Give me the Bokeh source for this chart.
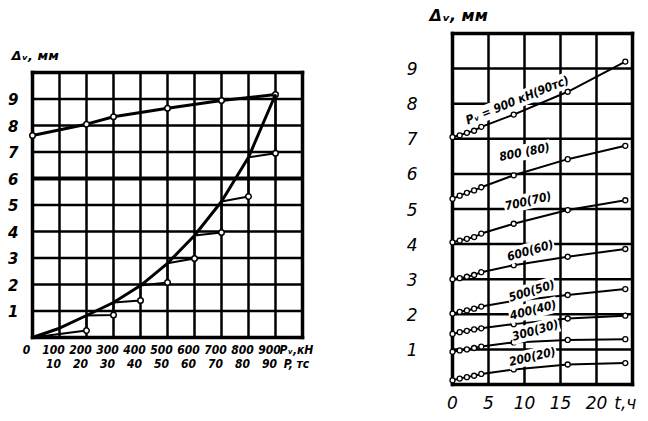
import numpy as np
from bokeh.plotting import figure
from bokeh.models import Label, Range1d
from bokeh.embed import file_html
from bokeh.resources import INLINE

# ---------------- data: left panel (settlement vs load) ----------------
load_kN = [0, 100, 200, 300, 400, 500, 600, 700, 800, 900]
settle_load = [0.0, 0.35, 0.83, 1.32, 1.96, 2.80, 3.85, 5.13, 6.80, 9.17]
step_kN = [0, 200, 200, 300, 300, 400, 400, 500, 500, 600, 600, 700, 700, 800, 800, 900, 900]
step_settle = [0.0, 0.26, 0.83, 0.85, 1.32, 1.40, 1.96, 2.08, 2.80, 2.98, 3.85, 3.96, 5.13, 5.32, 6.80, 6.95, 9.17]
rebound_kN = [0, 200, 300, 500, 700, 900]
rebound_settle = [7.62, 8.05, 8.33, 8.65, 8.94, 9.17]

x1_ticks = [0, 100, 200, 300, 400, 500, 600, 700, 800, 900, 1000]
x1_labels_kN = ["0", "100", "200", "300", "400", "500", "600", "700", "800", "900", "Pᵥ,кН"]
x1_labels_tc = ["", "10", "20", "30", "40", "50", "60", "70", "80", "90", "P, тс"]
y_ticks = [1, 2, 3, 4, 5, 6, 7, 8, 9]
y_grid = [0, 1, 2, 3, 4, 5, 6, 7, 8, 9, 10]

# ---------------- data: right panel (settlement vs time) ----------------
t_hours = [0, 1, 2, 3, 4, 8.5, 16, 24]
creep = {
    "200(20)": [0.12, 0.17, 0.21, 0.25, 0.30, 0.43, 0.57, 0.61],
    "300(30)": [0.93, 0.97, 1.00, 1.04, 1.08, 1.20, 1.27, 1.29],
    "400(40)": [1.44, 1.49, 1.53, 1.57, 1.60, 1.72, 1.88, 1.96],
    "500(50)": [2.02, 2.07, 2.11, 2.16, 2.22, 2.38, 2.55, 2.72],
    "600(60)": [3.00, 3.03, 3.07, 3.12, 3.20, 3.40, 3.64, 3.86],
    "700(70)": [4.05, 4.10, 4.15, 4.20, 4.30, 4.58, 4.97, 5.25],
    "800 (80)": [5.29, 5.38, 5.46, 5.53, 5.62, 5.96, 6.42, 6.80],
    "Pᵥ = 900 кН(90тс)": [7.05, 7.10, 7.17, 7.23, 7.34, 7.69, 8.34, 9.20],
}
x2_ticks = [0, 5, 10, 15, 20, 24]
x2_labels = ["0", "5", "10", "15", "20", "t,ч"]
x2_grid = [0, 5, 10, 15, 20, 25]

# ---------------- layout: one canvas, two panels placed through ranges ----------------
W, H = 644, 417
LEFT_BOX = (32, 302, 72, 337)      # canvas px: x of P=0, x of P=1000, y of 10 mm, y of 0 mm
RIGHT_BOX = (452, 632, 33, 384)    # canvas px: x of t=0, x of t=25, y of 10 mm, y of 0 mm

def xr(v0, v1, px0, px1):
    s = (px1 - px0) / (v1 - v0)
    return Range1d(v0 - px0 / s, v1 + (W - px1) / s)

def yr(v0, v1, py_top, py_bot):
    s = (py_bot - py_top) / (v1 - v0)
    return Range1d(v0 - (H - py_bot) / s, v1 + py_top / s)

p = figure(width=W, height=H, output_backend="svg", toolbar_location=None,
           x_axis_type=None, y_axis_type=None,
           x_range=xr(0, 1000, LEFT_BOX[0], LEFT_BOX[1]),
           y_range=yr(0, 10, LEFT_BOX[2], LEFT_BOX[3]),
           min_border=0, min_border_left=0, min_border_right=0,
           min_border_top=0, min_border_bottom=0)
p.extra_x_ranges = {"t": xr(0, 25, RIGHT_BOX[0], RIGHT_BOX[1])}
p.extra_y_ranges = {"v2": yr(0, 10, RIGHT_BOX[2], RIGHT_BOX[3])}
p.outline_line_color = None
p.background_fill_color = "white"
p.border_fill_color = "white"
p.xgrid.visible = False
p.ygrid.visible = False

FONT = "'DejaVu Sans', sans-serif"
NARROW = "'DejaVu Sans Condensed', 'Liberation Sans Narrow', 'DejaVu Sans', sans-serif"
R = dict(x_range_name="t", y_range_name="v2")

def grid(xt, yt, width, **kw):
    # vertical lines at xt spanning the y extent, horizontal at yt spanning the x extent
    x_lo, x_hi = xt[0], xt[-1]
    y_lo, y_hi = yt[0], yt[-1]
    p.segment(x0=xt, y0=[y_lo] * len(xt), x1=xt, y1=[y_hi] * len(xt),
              line_color="black", line_width=width, line_cap="square", **kw)
    p.segment(x0=[x_lo] * len(yt), y0=yt, x1=[x_hi] * len(yt), y1=yt,
              line_color="black", line_width=width, line_cap="square", **kw)

def frame(xt, yt, width, **kw):
    grid([xt[0], xt[-1]], [yt[0], yt[-1]], width, **kw)

grid(x1_ticks, y_grid, 2.5)
frame(x1_ticks, y_grid, 3.5)
p.segment(x0=[x1_ticks[0]], y0=[6], x1=[x1_ticks[-1]], y1=[6], line_color="black", line_width=4)
grid(x2_grid, y_grid, 2.5, **R)
frame(x2_grid, y_grid, 3.5, **R)

def label(x, y, text, size, style="bold italic", font=FONT, align="center",
          xo=0, yo=0, ang=0, bg=None, **kw):
    p.add_layout(Label(x=x, y=y, text=text, x_offset=xo, y_offset=yo,
                       text_font=font, text_font_size=size, text_font_style=style,
                       text_align=align, text_baseline="middle", text_color="black",
                       angle=ang, angle_units="deg",
                       background_fill_color=bg, padding=1, **kw))

# ---- left panel curves ----
p.line(rebound_kN, rebound_settle, line_color="black", line_width=3)
p.scatter(rebound_kN, rebound_settle, size=5.5, fill_color="white", line_color="black", line_width=1.5)
p.line(load_kN, settle_load, line_color="black", line_width=3)
p.line(step_kN, step_settle, line_color="black", line_width=2)
p.scatter(step_kN[1::2], step_settle[1::2], size=5.5, fill_color="white", line_color="black", line_width=1.5)

# left tick labels
for t, l in zip(x1_ticks, x1_labels_kN):
    label(t, 0, l, "12px", font=NARROW, xo=-6, yo=-12)
for t, l in zip(x1_ticks, x1_labels_tc):
    if l:
        label(t, 0, l, "12px", font=NARROW, xo=-6, yo=-26)
for v in y_ticks:
    label(0, v, str(v), "15px", align="right", xo=-13)
label(0, 10, "Δᵥ, мм", "13px", align="left", xo=-22, yo=17)

# ---- right panel curves ----
label_pos = {  # (t at label centre, vertical offset px, angle deg)
    "200(20)": (11.1, 11, 13), "300(30)": (11.5, 11, 16), "400(40)": (11.2, 12, 14),
    "500(50)": (11.0, 8, 17), "600(60)": (10.8, 12, 16), "700(70)": (10.5, 19, 13),
    "800 (80)": (10.0, 20, 11), "Pᵥ = 900 кН(90тс)": (9.0, 13, 22),
}
for name, vals in creep.items():
    p.line(t_hours, vals, line_color="black", line_width=2, **R)
    p.scatter(t_hours, vals, size=5, fill_color="white", line_color="black", line_width=1.3, **R)
    tl, off, ang = label_pos[name]
    label(tl, float(np.interp(tl, t_hours, vals)), name, "12px", font=NARROW,
          yo=off, ang=ang, bg="white", **R)

for t, l in zip(x2_ticks, x2_labels):
    label(t, 0, l, "17px", style="italic", yo=-18, **R)
for v in y_ticks:
    label(0, v, str(v), "17px", style="italic", align="right", xo=-34, **R)
label(0, 10, "Δᵥ, мм", "16px", align="left", xo=-24, yo=18, **R)

open("out.html", "w").write(file_html(p, INLINE))
